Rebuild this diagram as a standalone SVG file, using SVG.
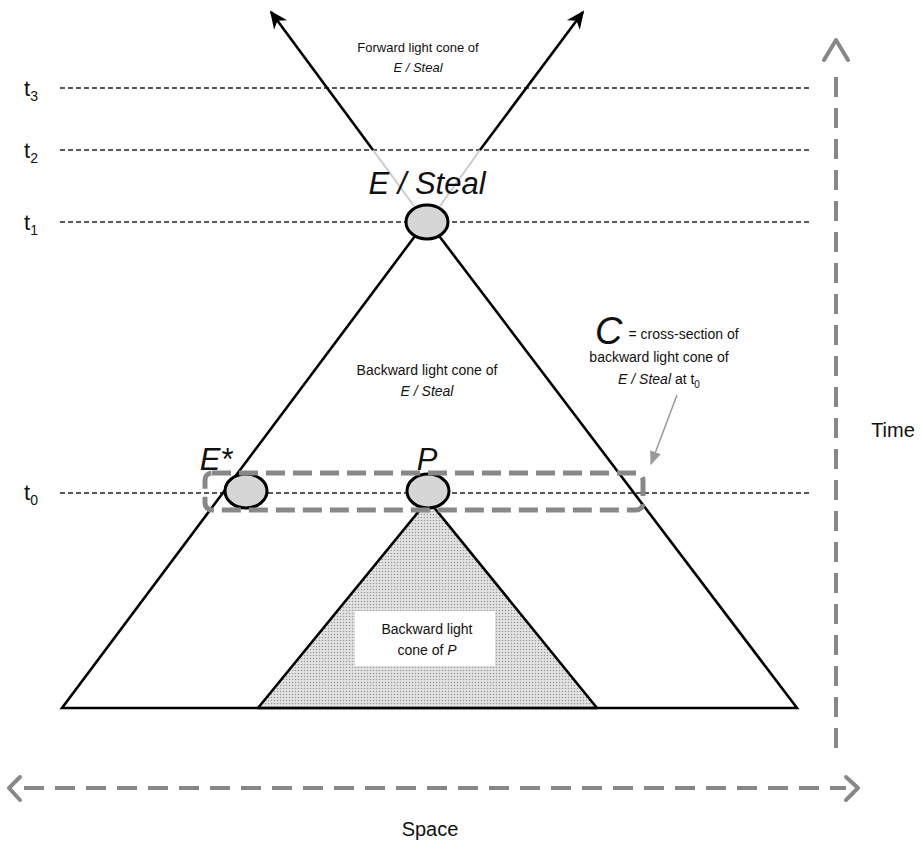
<svg xmlns="http://www.w3.org/2000/svg" width="922" height="841" viewBox="0 0 922 841">
<style>
.t{font-family:"Liberation Sans",Arial,sans-serif;fill:#111}
.i{font-style:italic}
.dash{stroke:#222;stroke-width:1.3;stroke-dasharray:5 3;fill:none}
.axis{stroke:#888;stroke-width:4;stroke-dasharray:20 11;fill:none}
.chev{stroke:#888;stroke-width:4;fill:none;stroke-linecap:round;stroke-linejoin:round}
.ev{fill:#d6d6d6;stroke:#000;stroke-width:3}
.cone{stroke:#000;stroke-width:2.6;fill:none}
</style>
<defs>
<pattern id="dots" width="3" height="3" patternUnits="userSpaceOnUse">
<rect width="3" height="3" fill="#e4e4e4"/>
<circle cx="1.5" cy="1.5" r="0.8" fill="#9a9a9a"/>
</pattern>
<marker id="ah" viewBox="0 0 10 10" refX="9" refY="5" markerWidth="18" markerHeight="18" orient="auto" markerUnits="userSpaceOnUse">
<path d="M0,0.5 L10,5 L0,9.5 L3,5 Z" fill="#000"/>
</marker>
<marker id="gh" viewBox="0 0 10 10" refX="9" refY="5" markerWidth="14" markerHeight="14" orient="auto" markerUnits="userSpaceOnUse">
<path d="M0,1 L10,5 L0,9 Z" fill="#999"/>
</marker>
</defs>
<rect width="922" height="841" fill="#fff"/>

<g id="time-lines">
<line class="dash" x1="60" y1="88" x2="812" y2="88"/>
<line class="dash" x1="60" y1="150" x2="812" y2="150"/>
<line class="dash" x1="60" y1="222" x2="812" y2="222"/>
<line class="dash" x1="60" y1="493" x2="812" y2="493"/>
<text class="t" x="24" y="96" font-size="22">t<tspan font-size="14" dy="5">3</tspan></text>
<text class="t" x="24" y="158" font-size="22">t<tspan font-size="14" dy="5">2</tspan></text>
<text class="t" x="24" y="230" font-size="22">t<tspan font-size="14" dy="5">1</tspan></text>
<text class="t" x="24" y="500" font-size="22">t<tspan font-size="14" dy="5">0</tspan></text>
</g>

<g id="backward-cone-E">
<path class="cone" d="M427,220 L62,708 L797,708 Z" fill="#fff"/>
<text class="t" x="427" y="375" font-size="14" text-anchor="middle">Backward light cone of</text>
<text class="t i" x="427" y="396" font-size="14" text-anchor="middle">E / Steal</text>
</g>

<g id="backward-cone-P">
<path d="M428,500 L258,708 L597,708 Z" fill="url(#dots)" stroke="#000" stroke-width="2.6" stroke-linejoin="round"/>
<rect x="355" y="611" width="140" height="55" fill="#fff"/>
<text class="t" x="427" y="634" font-size="14" text-anchor="middle">Backward light</text>
<text class="t" x="427" y="655" font-size="14" text-anchor="middle">cone of <tspan class="i">P</tspan></text>
</g>

<g id="connectors">
<line x1="414" y1="206" x2="373" y2="150" stroke="#ccc" stroke-width="2"/>
<line x1="373" y1="150" x2="271" y2="12" stroke="#000" stroke-width="2.6" marker-end="url(#ah)"/>
<line x1="440" y1="206" x2="480" y2="150" stroke="#ccc" stroke-width="2"/>
<line x1="480" y1="150" x2="583" y2="12" stroke="#000" stroke-width="2.6" marker-end="url(#ah)"/>
<line x1="677" y1="395" x2="651" y2="464" stroke="#999" stroke-width="1.5" marker-end="url(#gh)"/>
</g>

<g id="forward-label">
<text class="t" x="418" y="52" font-size="13" text-anchor="middle">Forward light cone of</text>
<text class="t i" x="418" y="72" font-size="13" text-anchor="middle">E / Steal</text>
</g>

<g id="E-Steal">
<ellipse class="ev" cx="427" cy="222" rx="21" ry="17"/>
<text class="t i" x="427" y="194" font-size="31" text-anchor="middle">E / Steal</text>
</g>

<g id="E-star">
<ellipse class="ev" cx="246" cy="491" rx="21" ry="17"/>
<text class="t i" x="216" y="470" font-size="31" text-anchor="middle">E*</text>
</g>

<g id="P">
<ellipse class="ev" cx="428" cy="491" rx="21" ry="17"/>
<text class="t i" x="427" y="470" font-size="31" text-anchor="middle">P</text>
</g>

<g id="C-section">
<rect x="205" y="473" width="438" height="37" rx="7" fill="none" stroke="#888" stroke-width="5" stroke-dasharray="19 8"/>
<text class="t" x="595" y="344" font-size="38"><tspan class="i">C</tspan><tspan font-size="14" dx="6" dy="-5">= cross-section of</tspan></text>
<text class="t" x="659" y="362" font-size="14" text-anchor="middle">backward light cone of</text>
<text class="t" x="659" y="384" font-size="14" text-anchor="middle"><tspan class="i">E / Steal</tspan> at t<tspan font-size="10" dy="4">0</tspan></text>
</g>

<g id="time-axis">
<line class="axis" x1="836" y1="748" x2="836" y2="66"/>
<polyline class="chev" points="824,60 836,40 848,60"/>
<text class="t" x="893" y="437" font-size="20" text-anchor="middle">Time</text>
</g>

<g id="space-axis">
<line class="axis" x1="24" y1="788" x2="846" y2="788"/>
<polyline class="chev" points="20,777 9,788 20,800"/>
<polyline class="chev" points="846,777 858,788 846,800"/>
<text class="t" x="430" y="836" font-size="20" text-anchor="middle">Space</text>
</g>
</svg>
